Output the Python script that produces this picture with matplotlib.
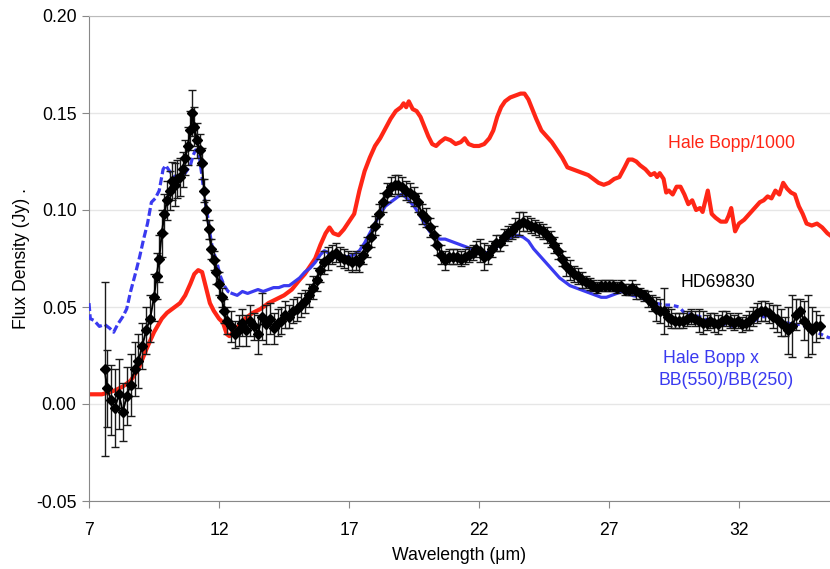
import numpy as np
import matplotlib
matplotlib.use('Agg')
import matplotlib.pyplot as plt

plt.rcParams['font.family'] = ['Liberation Sans', 'DejaVu Sans']

# Hale Bopp / 1000 (red)
hb_wave = [7.0, 7.5, 8.0, 8.3, 8.6, 8.9, 9.2, 9.5, 9.8, 10.0, 10.2, 10.5, 10.7, 10.9, 11.05,
           11.2, 11.35, 11.5, 11.65, 11.8, 12.0, 12.15, 12.3, 12.4, 12.6, 12.8, 13.0, 13.3,
           13.6, 13.9, 14.2, 14.5, 14.8, 15.1, 15.3, 15.5, 15.7, 15.9, 16.1, 16.25, 16.4,
           16.6, 16.8, 17.0, 17.2, 17.4, 17.6, 17.8, 18.0, 18.2, 18.4, 18.6, 18.8, 19.0,
           19.1, 19.2, 19.3, 19.45, 19.6, 19.75, 19.9, 20.05, 20.2, 20.35, 20.5, 20.7, 20.9,
           21.1, 21.3, 21.45, 21.6, 21.8, 22.0, 22.2, 22.4, 22.55, 22.7, 22.85, 23.0, 23.2,
           23.4, 23.6, 23.75, 23.9, 24.05, 24.2, 24.4, 24.6, 24.8, 25.0, 25.2, 25.4, 25.6,
           25.8, 26.0, 26.2, 26.4, 26.6, 26.8, 27.0, 27.2, 27.4, 27.6, 27.75, 27.9, 28.05,
           28.2, 28.4, 28.6, 28.75, 28.85, 28.95, 29.1, 29.2, 29.3, 29.45, 29.6, 29.75, 29.9,
           30.05, 30.2, 30.35, 30.5, 30.6, 30.8, 30.95, 31.1, 31.3, 31.5, 31.6, 31.7, 31.85,
           32.0, 32.2, 32.4, 32.6, 32.8, 32.95, 33.1, 33.25, 33.4, 33.55, 33.7, 33.85, 34.0,
           34.15, 34.3, 34.45, 34.6, 34.8, 35.0, 35.2, 35.4, 35.5]
hb_flux = [0.005, 0.005, 0.007, 0.009, 0.012, 0.018, 0.028, 0.037, 0.044, 0.047, 0.049, 0.052,
           0.056, 0.062, 0.067, 0.069, 0.068, 0.060, 0.052, 0.048, 0.044, 0.042, 0.036, 0.035,
           0.038, 0.041, 0.044, 0.047, 0.049, 0.052, 0.054, 0.056, 0.059, 0.064, 0.067, 0.071,
           0.075, 0.082, 0.088, 0.091, 0.088, 0.087, 0.090, 0.094, 0.098, 0.110, 0.120, 0.127,
           0.133, 0.137, 0.142, 0.147, 0.151, 0.153, 0.155, 0.153, 0.156, 0.152, 0.151, 0.148,
           0.143, 0.138, 0.134, 0.133, 0.135, 0.137, 0.136, 0.134, 0.135, 0.137, 0.134, 0.133,
           0.133, 0.134, 0.137, 0.141, 0.148, 0.153, 0.156, 0.158, 0.159, 0.160, 0.160, 0.157,
           0.152, 0.147, 0.141, 0.138, 0.135, 0.131, 0.127, 0.122, 0.121, 0.120, 0.119, 0.118,
           0.116, 0.114, 0.113, 0.114, 0.116, 0.117, 0.122, 0.126, 0.126, 0.125, 0.123, 0.121,
           0.118, 0.119, 0.117, 0.119, 0.116, 0.109, 0.110, 0.108, 0.112, 0.112, 0.108, 0.103,
           0.105, 0.100, 0.101, 0.099, 0.110, 0.098, 0.096, 0.094, 0.094, 0.097, 0.101, 0.089,
           0.093, 0.095, 0.098, 0.101, 0.104, 0.105, 0.107, 0.106, 0.110, 0.108, 0.114, 0.111,
           0.109, 0.108, 0.102, 0.098, 0.093, 0.092, 0.093, 0.091, 0.088, 0.087]

# Hale Bopp x BB(550)/BB(250) (blue)
bb_wave = [7.0, 7.05, 7.2, 7.4, 7.6, 7.8, 7.95, 8.1, 8.3, 8.45, 8.6, 8.8, 8.95, 9.1, 9.25,
           9.4, 9.55, 9.7, 9.85, 9.95, 10.1, 10.3, 10.5, 10.7, 10.9, 11.0, 11.1, 11.25, 11.35,
           11.45, 11.55, 11.65, 11.75, 11.9, 12.05, 12.2, 12.35, 12.5, 12.7, 12.9, 13.1, 13.3,
           13.5, 13.7, 13.9, 14.1, 14.3, 14.5, 14.7, 14.9, 15.1, 15.3, 15.5, 15.7, 15.9, 16.05,
           16.2, 16.4, 16.6, 16.8, 17.0, 17.2, 17.4, 17.6, 17.8, 18.0, 18.2, 18.4, 18.6, 18.8,
           19.0, 19.15, 19.3, 19.5, 19.7, 19.9, 20.1, 20.3, 20.5, 20.7, 20.9, 21.1, 21.3, 21.5,
           21.7, 21.9, 22.1, 22.3, 22.5, 22.7, 22.9, 23.1, 23.3, 23.5, 23.7, 23.9, 24.1, 24.3,
           24.5, 24.7, 24.9, 25.1, 25.3, 25.5, 25.7, 25.9, 26.1, 26.3, 26.5, 26.7, 26.9, 27.1,
           27.3, 27.5, 27.7, 27.9, 28.2, 28.5, 28.8, 29.1, 29.4, 29.7, 29.9, 30.2, 30.5, 30.8,
           31.1, 31.4, 31.7, 32.0, 32.3, 32.6, 32.9, 33.2, 33.5, 33.8, 34.1, 34.4, 34.7, 35.0,
           35.3, 35.5]
bb_flux = [0.052, 0.044, 0.043, 0.040, 0.041, 0.039, 0.037, 0.041, 0.045, 0.049, 0.058, 0.068,
           0.076, 0.085, 0.093, 0.104, 0.106, 0.110, 0.121, 0.123, 0.120, 0.117, 0.118, 0.119,
           0.123, 0.128, 0.131, 0.127, 0.117, 0.106, 0.098, 0.088, 0.080, 0.074, 0.066, 0.061,
           0.058, 0.057, 0.056, 0.058, 0.057, 0.058, 0.059, 0.058, 0.059, 0.060, 0.060, 0.061,
           0.061, 0.063, 0.065, 0.068, 0.070, 0.073, 0.077, 0.079, 0.078, 0.076, 0.075, 0.076,
           0.076, 0.077, 0.079, 0.083, 0.088, 0.093, 0.098, 0.102, 0.104, 0.106, 0.108, 0.107,
           0.105, 0.102, 0.098, 0.093, 0.089, 0.086, 0.085, 0.085, 0.084, 0.083, 0.082, 0.081,
           0.080, 0.079, 0.078, 0.078, 0.079, 0.081, 0.084, 0.085, 0.086, 0.087, 0.086, 0.084,
           0.080, 0.077, 0.074, 0.071, 0.068, 0.065, 0.063, 0.061, 0.060, 0.059, 0.058, 0.057,
           0.056, 0.055, 0.055, 0.056, 0.057, 0.058, 0.057, 0.056, 0.055, 0.053, 0.052, 0.051,
           0.051, 0.050, 0.047, 0.046, 0.045, 0.043, 0.042, 0.041, 0.040, 0.042, 0.042, 0.043,
           0.045, 0.045, 0.044, 0.042, 0.041, 0.041, 0.039, 0.037, 0.035, 0.034]

# HD69830 with error bars (black)
hd_wave = [7.6, 7.7, 7.85, 8.0, 8.15, 8.3, 8.45, 8.6, 8.75, 8.9, 9.05, 9.2, 9.35, 9.5, 9.6,
           9.7, 9.8, 9.9, 10.0, 10.1, 10.2, 10.3, 10.4, 10.5, 10.6, 10.7, 10.8, 10.9, 10.97,
           11.05, 11.15, 11.25, 11.35, 11.42, 11.5, 11.6, 11.7, 11.8, 11.9, 12.0, 12.1, 12.2,
           12.3, 12.45, 12.6, 12.75, 12.9, 13.05, 13.2, 13.35, 13.5, 13.65, 13.8, 13.95, 14.1,
           14.25, 14.4, 14.55, 14.7, 14.85, 15.0, 15.15, 15.3, 15.45, 15.6, 15.75, 15.9, 16.05,
           16.2, 16.35, 16.5, 16.65, 16.8, 16.95, 17.1, 17.25, 17.4, 17.55, 17.7, 17.85, 18.0,
           18.15, 18.3, 18.45, 18.6, 18.75, 18.9, 19.05, 19.2, 19.35, 19.5, 19.65, 19.8, 19.95,
           20.1, 20.25, 20.4, 20.55, 20.7, 20.85, 21.0, 21.15, 21.3, 21.45, 21.6, 21.75, 21.9,
           22.05, 22.2, 22.35, 22.5, 22.65, 22.8, 22.95, 23.1, 23.25, 23.4, 23.55, 23.7, 23.85,
           24.0, 24.15, 24.3, 24.45, 24.6, 24.75, 24.9, 25.05, 25.2, 25.35, 25.5, 25.65, 25.8,
           25.95, 26.1, 26.25, 26.4, 26.55, 26.7, 26.85, 27.0, 27.15, 27.3, 27.45, 27.6, 27.75,
           27.9, 28.05, 28.2, 28.35, 28.5, 28.65, 28.8, 28.95, 29.1, 29.25, 29.4, 29.55, 29.7,
           29.85, 30.0, 30.15, 30.3, 30.45, 30.6, 30.75, 30.9, 31.05, 31.2, 31.35, 31.5, 31.65,
           31.8, 31.95, 32.1, 32.25, 32.4, 32.55, 32.7, 32.85, 33.0, 33.15, 33.3, 33.45, 33.6,
           33.75, 33.9, 34.05, 34.2, 34.35, 34.5, 34.65, 34.8, 34.95, 35.1]
hd_flux = [0.018, 0.008, 0.002, -0.002, 0.005, -0.004, 0.004, 0.010, 0.018, 0.022, 0.030, 0.038,
           0.044, 0.055, 0.066, 0.075, 0.088, 0.098, 0.105, 0.110, 0.115, 0.113, 0.116, 0.117,
           0.121, 0.127, 0.133, 0.141, 0.150, 0.143, 0.136, 0.131, 0.124, 0.110, 0.100, 0.090,
           0.080, 0.074, 0.068, 0.062, 0.055, 0.048, 0.043, 0.040, 0.036, 0.038, 0.042, 0.038,
           0.043, 0.040, 0.036, 0.045, 0.041, 0.044, 0.039, 0.042, 0.043, 0.046, 0.045, 0.048,
           0.049, 0.051, 0.053, 0.056, 0.060, 0.064, 0.069, 0.073, 0.075, 0.077, 0.078, 0.076,
           0.075, 0.074, 0.073, 0.074, 0.073, 0.077, 0.081, 0.086, 0.092, 0.098, 0.104, 0.109,
           0.112, 0.113, 0.113, 0.112, 0.110, 0.109, 0.107, 0.104, 0.098, 0.096, 0.091, 0.087,
           0.082, 0.077, 0.074, 0.076, 0.076, 0.076, 0.075, 0.076, 0.077, 0.078, 0.080, 0.079,
           0.076, 0.077, 0.080, 0.083, 0.083, 0.086, 0.088, 0.089, 0.091, 0.093, 0.094, 0.093,
           0.092, 0.091, 0.090, 0.089, 0.087, 0.085, 0.082, 0.079, 0.075, 0.071, 0.069, 0.067,
           0.066, 0.064, 0.063, 0.062, 0.061, 0.060, 0.061, 0.061, 0.061, 0.061, 0.060, 0.061,
           0.059, 0.059, 0.060, 0.058, 0.057, 0.056, 0.054, 0.052, 0.049, 0.048, 0.048, 0.045,
           0.044, 0.043, 0.043, 0.043, 0.044, 0.045, 0.044, 0.043, 0.042, 0.042, 0.043, 0.042,
           0.041, 0.043, 0.044, 0.043, 0.042, 0.043, 0.041, 0.042, 0.043, 0.045, 0.047, 0.048,
           0.048, 0.047, 0.045, 0.044, 0.042, 0.040, 0.038, 0.040, 0.046, 0.048, 0.043, 0.040,
           0.038, 0.040, 0.040]
hd_err = [0.045, 0.020, 0.018, 0.020, 0.018, 0.015, 0.015, 0.016, 0.014, 0.014, 0.012, 0.012,
          0.012, 0.012, 0.012, 0.012, 0.012, 0.010, 0.010, 0.010, 0.010, 0.011, 0.010, 0.010,
          0.009, 0.009, 0.010, 0.010, 0.012, 0.010, 0.009, 0.008, 0.008, 0.006, 0.005, 0.005,
          0.005, 0.005, 0.006, 0.006, 0.005, 0.006, 0.007, 0.008, 0.007, 0.008, 0.007, 0.008,
          0.008, 0.007, 0.010, 0.012, 0.010, 0.008, 0.008, 0.007, 0.007, 0.007, 0.006, 0.006,
          0.006, 0.006, 0.006, 0.006, 0.006, 0.006, 0.006, 0.006, 0.006, 0.005, 0.005, 0.005,
          0.005, 0.005, 0.005, 0.005, 0.005, 0.005, 0.005, 0.005, 0.005, 0.005, 0.005, 0.005,
          0.005, 0.005, 0.005, 0.005, 0.005, 0.005, 0.005, 0.005, 0.005, 0.005, 0.005, 0.005,
          0.005, 0.005, 0.005, 0.004, 0.004, 0.004, 0.004, 0.004, 0.004, 0.004, 0.004, 0.006,
          0.007, 0.005, 0.004, 0.004, 0.004, 0.004, 0.004, 0.004, 0.005, 0.006, 0.005, 0.004,
          0.004, 0.004, 0.004, 0.004, 0.004, 0.004, 0.004, 0.004, 0.004, 0.005, 0.005, 0.004,
          0.004, 0.004, 0.003, 0.003, 0.003, 0.003, 0.003, 0.003, 0.003, 0.003, 0.003, 0.003,
          0.003, 0.003, 0.004, 0.004, 0.003, 0.003, 0.004, 0.004, 0.006, 0.006, 0.012, 0.005,
          0.005, 0.004, 0.004, 0.004, 0.004, 0.004, 0.004, 0.006, 0.006, 0.004, 0.004, 0.005,
          0.005, 0.005, 0.004, 0.004, 0.004, 0.004, 0.004, 0.004, 0.005, 0.005, 0.005, 0.005,
          0.005, 0.005, 0.006, 0.007, 0.007, 0.005, 0.012, 0.016, 0.008, 0.006, 0.010, 0.016,
          0.012, 0.008, 0.006]

red = '#ff2616'
blue = '#3a3af0'

fig = plt.figure(figsize=(8.3, 5.69), dpi=100)
ax = fig.add_axes([89 / 830, 68 / 569, 741 / 830, 485 / 569])

ax.plot(hb_wave, hb_flux, color=red, lw=3.0, zorder=2)

# blue curve: dashed where the points are sparse, solid in the middle
bw = np.array(bb_wave)
bf = np.array(bb_flux)
m1 = bw <= 12.5
m2 = (bw >= 12.5) & (bw <= 27.9)
m3 = bw >= 27.9
ax.plot(bw[m1], bf[m1], color=blue, lw=2.3, ls=(0, (2.5, 1.0)), zorder=3)
ax.plot(bw[m2], bf[m2], color=blue, lw=2.3, zorder=3)
ax.plot(bw[m3], bf[m3], color=blue, lw=2.3, ls=(0, (1.5, 1.2)), zorder=3)

ax.errorbar(hd_wave, hd_flux, yerr=hd_err, color='black', lw=1.4, marker='D', ms=4.8,
            ecolor='#1a1a1a', elinewidth=1.0, capsize=3, capthick=1.0, zorder=4)

ax.text(31.7, 0.1345, 'Hale Bopp/1000', color=red, fontsize=12.7, ha='center', va='center')
ax.text(31.19, 0.0624, 'HD69830', color='black', fontsize=12.7, ha='center', va='center')
ax.text(29.08, 0.0237, 'Hale Bopp x', color=blue, fontsize=12.7, ha='left', va='center')
ax.text(28.92, 0.0119, 'BB(550)/BB(250)', color=blue, fontsize=12.7, ha='left', va='center')

ax.set_xlim(7, 35.5)
ax.set_ylim(-0.05, 0.20)
ax.set_xticks([7, 12, 17, 22, 27, 32])
ax.set_yticks([-0.05, 0.0, 0.05, 0.10, 0.15, 0.20])
ax.set_yticklabels(['-0.05', '0.00', '0.05', '0.10', '0.15', '0.20'])
ax.tick_params(axis='both', direction='out', length=5, color='#888888', labelsize=12.7)
ax.tick_params(axis='x', pad=10)
ax.tick_params(axis='y', pad=4)
ax.yaxis.grid(True, color='#e6e6e6', lw=1)
ax.set_axisbelow(True)

ax.spines['right'].set_visible(False)
ax.spines['top'].set_color('#bbbbbb')
ax.spines['left'].set_color('#888888')
ax.spines['bottom'].set_color('#888888')

ax.set_xlabel('Wavelength (\u03bcm)', fontsize=12.7, labelpad=6)
ax.set_ylabel('Flux Density (Jy) .', fontsize=12.7, labelpad=4)

fig.savefig('out.png', dpi=100)
